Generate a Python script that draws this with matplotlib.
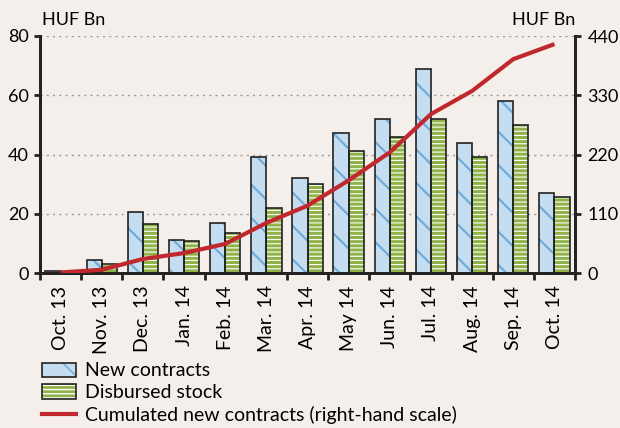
import numpy as np
import matplotlib
matplotlib.use('Agg')
import matplotlib.pyplot as plt
from matplotlib.patches import Patch
from matplotlib.lines import Line2D

plt.rcParams['font.family'] = ['Lato', 'DejaVu Sans']

# data
months = ['Oct. 13', 'Nov. 13', 'Dec. 13', 'Jan. 14', 'Feb. 14', 'Mar. 14', 'Apr. 14',
          'May 14', 'Jun. 14', 'Jul. 14', 'Aug. 14', 'Sep. 14', 'Oct. 14']
new_contracts = [0.8, 4.5, 20.5, 11.3, 17.0, 39.0, 32.2, 47.2, 52.0, 69.0, 44.0, 58.2, 27.0]
disbursed = [0.5, 3.0, 16.5, 10.8, 13.6, 22.0, 30.2, 41.3, 46.0, 52.0, 39.3, 50.0, 25.5]
cumulated = [1, 6, 26, 37, 54, 93, 125, 172, 224, 295, 338, 397, 425]

BG = '#F5EFEC'
BLUE_FILL = '#C5DDF1'
BLUE_HATCH = '#6EA9D8'
GREEN_FILL = '#8FB348'
RED = '#C0282D'
INK = '#222222'

fig = plt.figure(figsize=(6.2, 4.28), dpi=100, facecolor=BG)
ax = fig.add_axes([40/620, 1 - 273/428, 535/620, 237/428])
ax.set_facecolor(BG)
ax2 = ax.twinx()

x = np.arange(len(months))
w = 0.37

# bars: filled + hatch layer, then black outline layer
with plt.rc_context({'hatch.linewidth': 1.5}):
    ax.bar(x - w/2, new_contracts, w, color=BLUE_FILL, edgecolor=BLUE_HATCH, hatch='\\', lw=0, zorder=2)
    blue_leg = Patch(facecolor=BLUE_FILL, edgecolor=BLUE_HATCH, hatch='\\', lw=0)
with plt.rc_context({'hatch.linewidth': 0.8}):
    ax.bar(x + w/2, disbursed, w, color=GREEN_FILL, edgecolor='white', hatch='----', lw=0, zorder=2)
    green_leg = Patch(facecolor=GREEN_FILL, edgecolor='white', hatch='----', lw=0)
ax.bar(x - w/2, new_contracts, w, fill=False, edgecolor=INK, lw=1.2, zorder=3)
ax.bar(x + w/2, disbursed, w, fill=False, edgecolor=INK, lw=1.2, zorder=3)

ax.set_xlim(-0.5, len(months) - 0.5)
ax.set_ylim(0, 80)
ax.set_yticks([0, 20, 40, 60, 80])
ax.yaxis.grid(True, ls=(0, (1.5, 3)), color='#999999', lw=1, zorder=0)
ax.set_axisbelow(True)

ax.set_xticks(np.arange(len(months) + 1) - 0.5)
ax.set_xticklabels([])
ax.set_xticks(x, minor=True)
ax.set_xticklabels(months, minor=True, rotation=90, fontsize=14)
ax.tick_params(axis='x', which='minor', length=0, pad=9)
ax.tick_params(axis='x', which='major', length=5, width=2, direction='out', color=INK)
ax.tick_params(axis='y', length=4, width=2, labelsize=13, pad=4, color=INK)

ax2.plot(x, cumulated, color=RED, lw=3, zorder=5, solid_capstyle='butt')
ax2.set_ylim(0, 440)
ax2.set_yticks([0, 110, 220, 330, 440])
ax2.tick_params(axis='y', length=4, width=2, labelsize=13, pad=5, color=INK)

for a in (ax, ax2):
    a.spines['top'].set_visible(False)
    for s in ('left', 'right', 'bottom'):
        a.spines[s].set_linewidth(2)
        a.spines[s].set_color(INK)

fig.text(42/620, 1 - 20/428, 'HUF Bn', fontsize=13, va='center', ha='left')
fig.text(575/620, 1 - 20/428, 'HUF Bn', fontsize=13, va='center', ha='right')

outline = Patch(facecolor='none', edgecolor=INK, lw=1.2)
handles = [(blue_leg, outline), (green_leg, outline), Line2D([], [], color=RED, lw=3)]
labels = ['New contracts', 'Disbursed stock', 'Cumulated new contracts (right-hand scale)']
fig.legend(handles, labels, loc='lower left', bbox_to_anchor=(32/620, -6/428), frameon=False,
           fontsize=14, handlelength=1.75, handleheight=0.75, labelspacing=0.25,
           handletextpad=0.5, borderaxespad=0.1)

fig.savefig('out.png', dpi=100, facecolor=BG)
